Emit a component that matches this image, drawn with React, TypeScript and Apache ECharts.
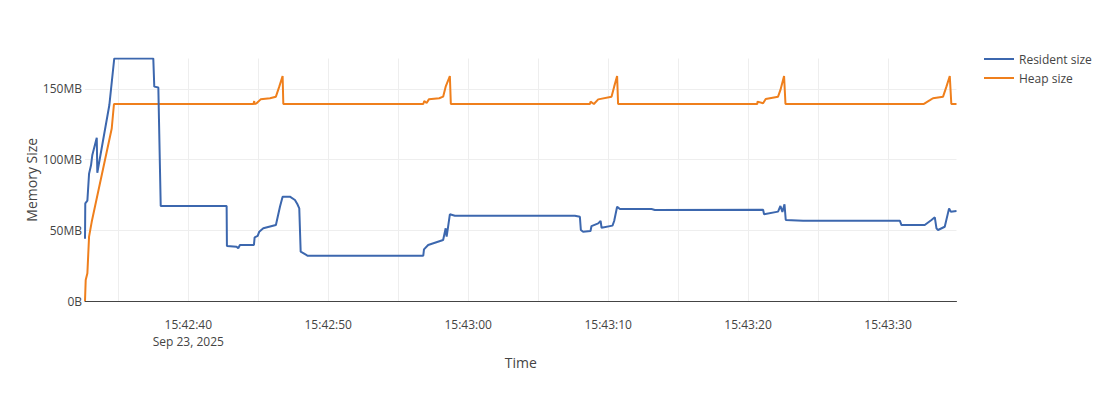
import React, { useEffect, useRef } from "react";
import * as echarts from "echarts";

// seconds after 15:42:00 on Sep 23, 2025
const residentTimes = [
  32.62, 32.64, 32.79, 32.91, 33.05, 33.14, 33.46, 33.5, 34.36, 34.71,
  37.5, 37.57, 37.86, 38.03, 42.74, 42.76, 43.45, 43.57, 43.69, 44.69,
  44.74, 44.96, 45.07, 45.36, 46.26, 46.55, 46.74, 47.26, 47.62, 47.79,
  47.93, 48.03, 48.46, 48.5, 56.79, 56.84, 57.14, 58.21, 58.39, 58.46,
  58.57, 58.69, 59.05, 67.62, 67.98, 68.05, 68.21, 68.74, 68.81, 69.29,
  69.46, 69.53, 70.31, 70.43, 70.64, 70.84, 73.1, 73.34, 81.07, 81.14,
  82.14, 82.31, 82.45, 82.6, 82.69, 83.93, 90.84, 90.96, 92.62, 93.1,
  93.34, 93.46, 93.57, 94.05, 94.36, 94.48, 94.89,
];
const residentMB = [
  44, 69, 71, 90, 96, 103, 115.5, 90.7, 138.6, 171.5,
  171.5, 151.6, 151, 67.2, 67.2, 38.9, 38.4, 37.3, 39.6, 39.6,
  45, 46, 49, 51.4, 53.7, 66.7, 73.8, 73.8, 71.4, 68.6,
  65.5, 34.9, 32.5, 32, 32, 36.5, 39.6, 43.1, 51.4, 45.5,
  53, 61.3, 60.3, 60.3, 59.6, 50.2, 49, 49.5, 53, 54.9,
  56.6, 51.8, 53.3, 56.6, 66.7, 65, 65, 64.4, 64.6, 61.3,
  63.2, 67.2, 63, 68.4, 57.3, 56.8, 56.8, 53.7, 53.7, 57.3,
  59.2, 51.4, 50.2, 52.5, 65.5, 63.2, 63.6,
];

const heapTimes = [
  32.62, 32.67, 32.79, 32.91, 33.1, 34.53, 34.69, 44.66, 44.71, 44.74,
  44.88, 45.17, 45.84, 46.26, 46.5, 46.74, 46.79, 56.79, 56.86, 57.03,
  57.19, 57.93, 58.21, 58.39, 58.69, 58.76, 68.7, 68.74, 68.98, 69.29,
  70.24, 70.43, 70.64, 70.71, 80.66, 80.67, 81.07, 81.26, 82.14, 82.31,
  82.57, 82.67, 92.55, 92.62, 93.02, 93.21, 93.93, 94.17, 94.41, 94.52,
  94.89,
];
const heapMB = [
  0, 14.8, 19.6, 45.5, 56, 122, 139.3, 139.3, 141.4, 139.3,
  139.8, 142.6, 143.4, 144.5, 151.6, 159.1, 139.3, 139.3, 141.4, 140,
  142.6, 143.4, 144.5, 151.6, 159.1, 139.3, 139.3, 141, 139.3, 142.6,
  144.5, 151.6, 159.1, 139.3, 139.3, 141, 139.8, 142.8, 144.5, 149.3,
  159.1, 139.3, 139.3, 139.8, 142.2, 143.4, 144.5, 151.6, 159.1, 139.3,
  139.3,
];

const seriesNames = ["Resident size", "Heap size"];
const seriesColors = ["#3c67ae", "#ef7f1c"];
const dateLabel = "Sep 23, 2025";
const yMaxMB = 171.5;

const BASE = new Date(2025, 8, 23, 15, 42, 0).getTime();
const toPoints = (ts: number[], vs: number[]) =>
  ts.map((t, i) => [BASE + Math.round(t * 1000), vs[i]]);

const pad = (n: number) => (n < 10 ? "0" + n : "" + n);
const FONT = '"Open Sans", verdana, arial, sans-serif';

export default function App() {
  const ref = useRef<HTMLDivElement>(null);
  useEffect(() => {
    if (!ref.current) return;
    const chart = echarts.init(ref.current, undefined, { renderer: "svg" });
    const residentData = toPoints(residentTimes, residentMB);
    const heapData = toPoints(heapTimes, heapMB);
    const xMin = BASE + Math.round(residentTimes[0] * 1000);
    const xMax = BASE + Math.round(residentTimes[residentTimes.length - 1] * 1000);
    const firstLabelTime = new Date(2025, 8, 23, 15, 42, 40).getTime();
    chart.setOption({
      animation: false,
      textStyle: { fontFamily: FONT },
      grid: { left: 85, right: 158.5, top: 58.5, bottom: 95, containLabel: false },
      legend: {
        orient: "vertical",
        left: 979,
        top: 47,
        itemWidth: 30,
        itemHeight: 2,
        itemGap: 5,
        icon: "rect",
        textStyle: { color: "#444", fontSize: 12, fontFamily: FONT, padding: [0, 0, 0, 0], lineHeight: 14 },
        data: seriesNames,
      },
      xAxis: {
        type: "time",
        min: xMin,
        max: xMax,
        minInterval: 10000,
        maxInterval: 10000,
        name: "Time",
        nameLocation: "middle",
        nameGap: 54,
        nameTextStyle: { color: "#444", fontSize: 14, fontFamily: FONT, verticalAlign: "top" },
        axisLine: { show: true, lineStyle: { color: "#444", width: 1 } },
        axisTick: { show: false },
        axisLabel: {
          color: "#444",
          fontSize: 12,
          fontFamily: FONT,
          margin: 15,
          lineHeight: 17,
          hideOverlap: false,
          formatter: (value: number) => {
            const d = new Date(value);
            if (d.getMilliseconds() !== 0 || d.getSeconds() % 10 !== 0) return "";
            const s = pad(d.getHours()) + ":" + pad(d.getMinutes()) + ":" + pad(d.getSeconds());
            return value === firstLabelTime ? s + "\n" + dateLabel : s;
          },
        },
        splitLine: { show: true, showMinLine: false, showMaxLine: false, lineStyle: { color: "#eee", width: 1 } },
      },
      yAxis: {
        type: "value",
        min: 0,
        max: yMaxMB,
        interval: 50,
        name: "Memory Size",
        nameLocation: "middle",
        nameGap: 47,
        nameMoveOverlap: false,
        nameTextStyle: { color: "#444", fontSize: 14, fontFamily: FONT, verticalAlign: "bottom" },
        axisLine: { show: false },
        axisTick: { show: false },
        axisLabel: {
          color: "#444",
          fontSize: 12,
          fontFamily: FONT,
          margin: 3,
          showMaxLabel: false,
          formatter: (v: number) => (v === 0 ? "0B" : v + "MB"),
        },
        splitLine: { show: true, showMinLine: false, showMaxLine: false, lineStyle: { color: "#eee", width: 1 } },
      },
      series: [
        {
          name: seriesNames[0],
          type: "line",
          data: residentData,
          showSymbol: false,
          symbol: "none",
          color: seriesColors[0],
          lineStyle: { width: 2, color: seriesColors[0] },
          z: 3,
        },
        {
          name: seriesNames[1],
          type: "line",
          data: heapData,
          showSymbol: false,
          symbol: "none",
          color: seriesColors[1],
          lineStyle: { width: 2, color: seriesColors[1] },
          z: 2,
        },
      ],
    });
    return () => chart.dispose();
  }, []);
  return (
    <div
      ref={ref}
      style={{ position: "absolute", left: 0, top: 0, width: 1115, height: 396 }}
    />
  );
}
